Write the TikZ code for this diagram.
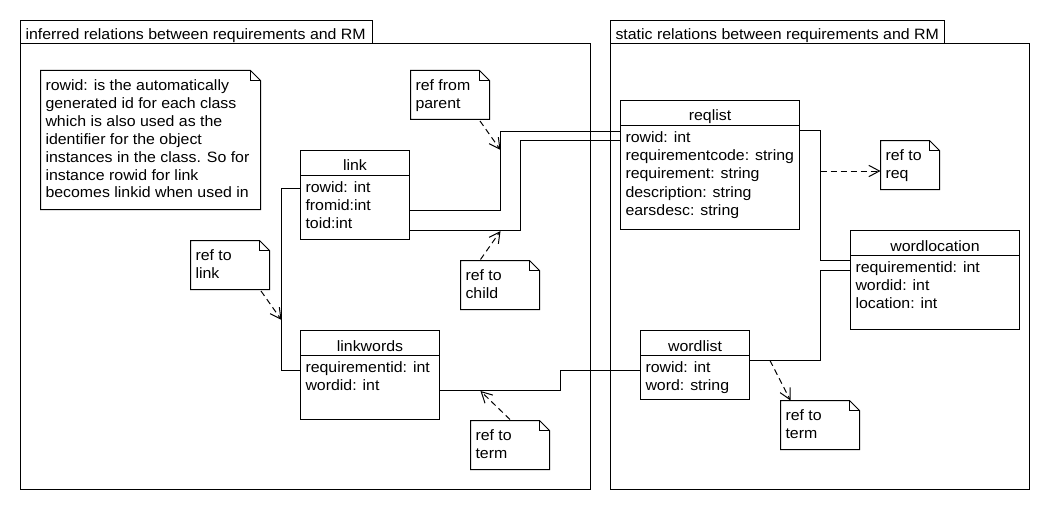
\documentclass[tikz,border=0pt]{standalone}
\usepackage{fontspec}
\setmainfont{Liberation Sans}[FakeStretch=1.06]
\usetikzlibrary{fit,calc,arrows.meta}
\tikzset{
  ln/.style={line width=0.75pt, draw=black},
  box/.style={draw=black, line width=0.75pt, inner sep=0pt, outer sep=0pt},
  ghost/.style={inner sep=0pt, outer sep=0pt},
  txt/.style={inner sep=0pt, outer sep=0pt, font=\fontsize{11.25pt}{13.5pt}\selectfont},
  dep/.style={line width=0.75pt, dash pattern=on 4.5pt off 3pt, -{Straight Barb[length=8pt,width=8.5pt]}},
}
% #1 name, #2 x1, #3 y1, #4 x2, #5 y of header line, #6 y2, #7 title, #8 attributes
\newcommand{\umlclass}[8]{%
  \node[box, fit={(#2,#3)(#4,#5)}] (#1-head) {};
  \node[box, fit={(#2,#5)(#4,#6)}] (#1) {};
  \node[txt, anchor=base] (#1-title) at ($(#1-head.south)+(0,-4.5)$) {#7};
  \foreach \t [count=\i] in {#8}
    \node[txt, anchor=base west] (#1-a\i) at ($(#1.north west)+(5,{17+(\i-1)*18.2})$) {\t};
}
% #1 name, #2 x1, #3 y1, #4 x2, #5 y2, #6 lines
\newcommand{\umlnote}[6]{%
  \node[ghost, fit={(#2,#3)(#4,#5)}] (#1) {};
  \draw[ln, line join=miter] (#1.north west) -- ($(#1.north east)+(-10,0)$) -- ($(#1.north east)+(0,10)$)
     -- (#1.south east) -- (#1.south west) -- cycle;
  \draw[ln] ($(#1.north east)+(-10,0)$) -- ($(#1.north east)+(-10,10)$) -- ($(#1.north east)+(0,10)$);
  \foreach \t [count=\i] in {#6}
    \node[txt, anchor=base west] (#1-l\i) at ($(#1.north west)+(5,{20+(\i-1)*17.9})$) {\t};
}
\begin{document}
\begin{tikzpicture}[x=0.75pt,y=-0.75pt]
\fill[white] (0,0) rectangle (1050,510);
\useasboundingbox (0,0) rectangle (1050,510);

% packages
\node[box, fit={(20.5,20.5)(372.5,43.5)}] (lpkgtab) {};
\node[txt, anchor=base west] (lpkgtitle) at ($(lpkgtab.south west)+(5,-4)$) {inferred relations between requirements and RM};
\node[box, fit={(20.5,43.5)(590.5,489.5)}] (lpkg) {};
\node[box, fit={(610.5,20.5)(944.5,43.5)}] (rpkgtab) {};
\node[txt, anchor=base west] (rpkgtitle) at ($(rpkgtab.south west)+(5,-4)$) {static relations between requirements and RM};
\node[box, fit={(610.5,43.5)(1029.5,489.5)}] (rpkg) {};

% classes
\umlclass{link}{300.5}{150.5}{409.5}{175.5}{239.5}{link}{rowid: int,fromid:int,toid:int}
\umlclass{linkwords}{300.5}{330.5}{439.5}{355.5}{419.5}{linkwords}{requirementid: int,wordid: int}
\umlclass{reqlist}{620.5}{100.5}{799.5}{125.5}{229.5}{reqlist}{rowid: int,requirementcode: string,requirement: string,description: string,earsdesc: string}
\umlclass{wordlocation}{850.5}{230.5}{1019.5}{255.5}{329.5}{wordlocation}{requirementid: int,wordid: int,location: int}
\umlclass{wordlist}{640.5}{330.5}{749.5}{355.5}{399.5}{wordlist}{rowid: int,word: string}

% notes
\umlnote{rownote}{40.5}{70.5}{260.5}{209.5}{rowid: is the automatically,generated id for each class,which is also used as the,identifier for the object,instances in the class. So for,instance rowid for link,becomes linkid when used in}
\umlnote{parentnote}{410.5}{70.5}{489.5}{119.5}{ref from,parent}
\umlnote{childnote}{460.5}{260.5}{539.5}{309.5}{ref to,child}
\umlnote{linknote}{190.5}{240.5}{269.5}{289.5}{ref to,link}
\umlnote{termnoteL}{470.5}{420.5}{549.5}{469.5}{ref to,term}
\umlnote{reqnote}{880.5}{140.5}{939.5}{189.5}{ref to,req}
\umlnote{termnoteR}{780.5}{400.5}{859.5}{449.5}{ref to,term}

% associations
\draw[ln] ($(link.north east)+(0,35)$) -| (500.5,131.5) -- ($(reqlist.north west)+(0,6)$);
\draw[ln] ($(link.north east)+(0,55)$) -| (520.5,140.5) -- ($(reqlist.north west)+(0,15)$);
\draw[ln] ($(link.north west)+(0,13)$) -| (281.5,370.5) -- ($(linkwords.north west)+(0,15)$);
\draw[ln] ($(linkwords.north east)+(0,35)$) -| (560.5,370.5) -- ($(wordlist.north west)+(0,15)$);
\draw[ln] ($(reqlist.north east)+(0,5)$) -| (820.5,260.5) -- ($(wordlocation.north west)+(0,5)$);
\draw[ln] ($(wordlist.north east)+(0,5)$) -| (820.5,270.5) -- ($(wordlocation.north west)+(0,15)$);

% dependency arrows
\coordinate (tipparent) at (500.5,150);
\coordinate (tipchild) at (500.5,231);
\coordinate (tiplink) at (281.5,320);
\coordinate (tipterm) at (480.5,391);
\coordinate (startreq) at (820.5,171);
\coordinate (startterm) at (770,360.5);
\draw[dep] ($(parentnote.south west)+(69.5,1.5)$) -- (tipparent);
\draw[dep] ($(childnote.north west)+(20,-1)$) -- (tipchild);
\draw[dep] ($(linknote.south west)+(70.5,1.5)$) -- (tiplink);
\draw[dep] ($(termnoteL.north west)+(39.5,-1)$) -- (tipterm);
\draw[dep] (startreq) -- (reqnote.west |- startreq);
\draw[dep] (startterm) -- ($(termnoteR.north west)+(10,0)$);
\end{tikzpicture}
\end{document}
